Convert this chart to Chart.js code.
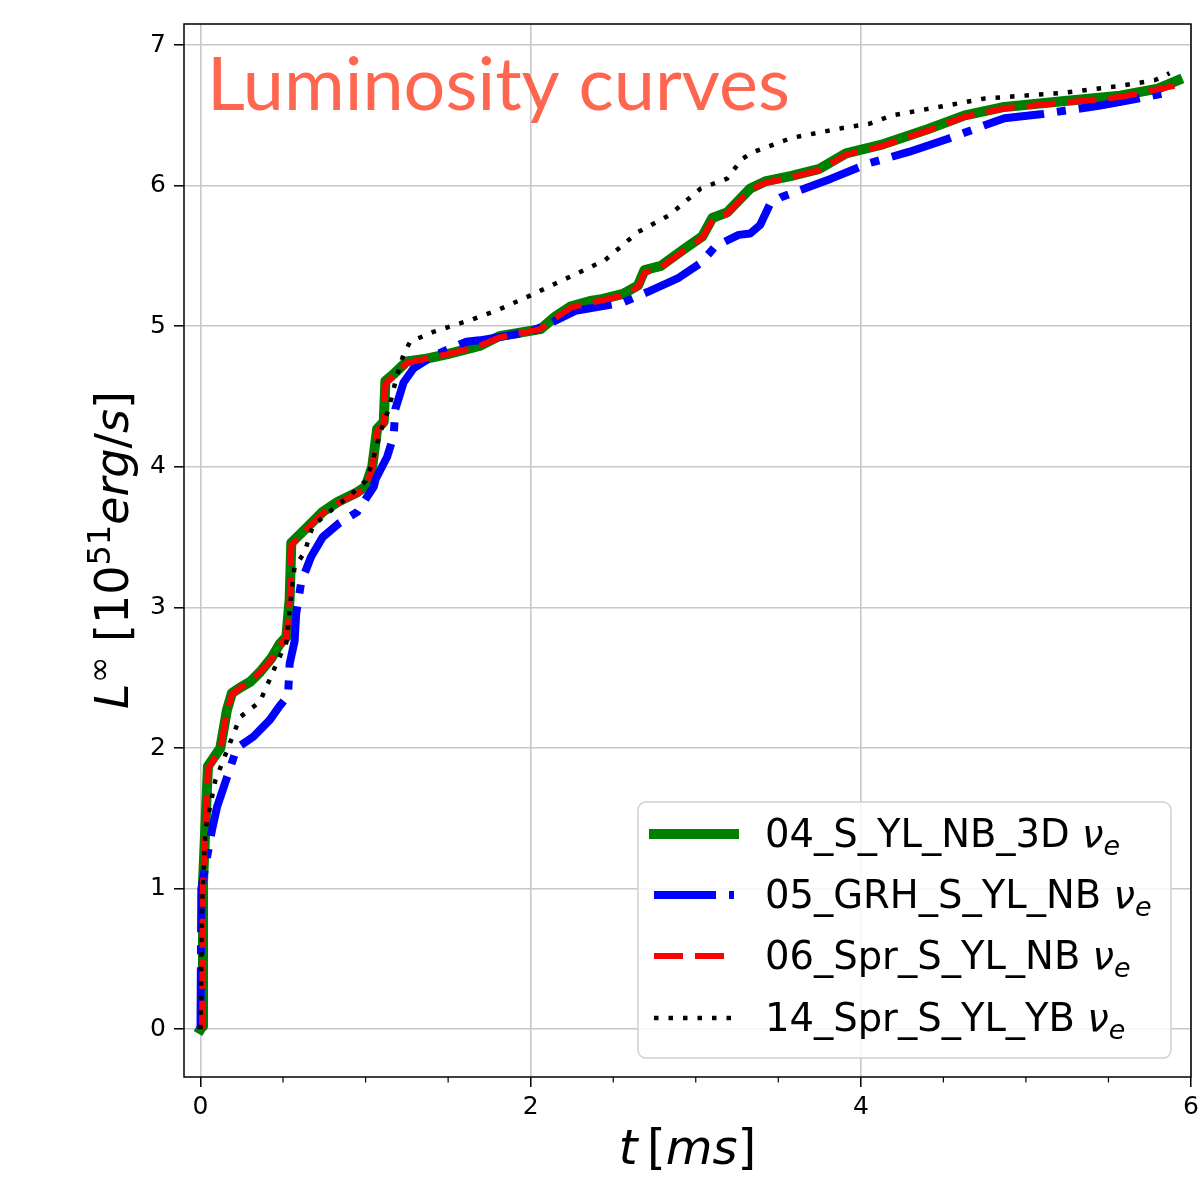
<!DOCTYPE html>
<html>
<head>
<meta charset="utf-8">
<script src="https://cdn.jsdelivr.net/npm/chart.js@4.4.1/dist/chart.umd.min.js"></script>
<style>
  html, body { margin: 0; padding: 0; background: #fff; }
  #wrap { width: 1204px; height: 1182px; }
</style>
</head>
<body>
<div id="wrap"><canvas id="chart" width="1204" height="1182"></canvas></div>
<script>
// Tick values
const xTicks = [0, 2, 4, 6];
const xMinorTicks = [0.5, 1, 1.5, 2.5, 3, 3.5, 4.5, 5, 5.5];
const yTicks = [0, 1, 2, 3, 4, 5, 6, 7];

// Series labels
const seriesLabels = ["04_S_YL_NB_3D", "05_GRH_S_YL_NB", "06_Spr_S_YL_NB", "14_Spr_S_YL_YB"];

// 04_S_YL_NB_3D (green, solid)
const greenT = [0, 0.01, 0.015, 0.045, 0.12, 0.16, 0.19, 0.24, 0.30, 0.36, 0.43, 0.48, 0.52, 0.54, 0.55, 0.62, 0.74, 0.83, 0.95, 1.0, 1.04, 1.07, 1.11, 1.12, 1.17, 1.25, 1.37, 1.49, 1.69, 1.81, 2.06, 2.15, 2.24, 2.36, 2.42, 2.56, 2.65, 2.69, 2.79, 2.93, 3.04, 3.1, 3.19, 3.33, 3.42, 3.58, 3.75, 3.91, 4.12, 4.4, 4.63, 4.87, 5.22, 5.57, 5.8, 5.92];
const greenL = [0, 0.02, 1.04, 1.87, 2.0, 2.27, 2.39, 2.43, 2.47, 2.54, 2.64, 2.74, 2.79, 3.06, 3.46, 3.54, 3.68, 3.75, 3.82, 3.86, 4.0, 4.27, 4.32, 4.61, 4.66, 4.75, 4.77, 4.80, 4.86, 4.93, 4.98, 5.07, 5.14, 5.18, 5.19, 5.23, 5.29, 5.40, 5.43, 5.55, 5.64, 5.77, 5.81, 5.98, 6.03, 6.07, 6.12, 6.23, 6.29, 6.40, 6.50, 6.56, 6.60, 6.64, 6.69, 6.75];

// 05_GRH_S_YL_NB (blue, dash-dot)
const blueT = [0, 0.005, 0.07, 0.10, 0.22, 0.32, 0.42, 0.48, 0.53, 0.54, 0.57, 0.58, 0.61, 0.67, 0.74, 0.84, 0.95, 1.05, 1.06, 1.13, 1.17, 1.18, 1.23, 1.29, 1.41, 1.61, 1.69, 2.0, 2.15, 2.27, 2.42, 2.56, 2.72, 2.89, 3.03, 3.12, 3.26, 3.33, 3.39, 3.45, 3.52, 3.66, 3.82, 4.05, 4.29, 4.52, 4.75, 4.87, 5.1, 5.45, 5.68, 5.89];
const blueL = [0, 1.0, 1.42, 1.58, 2.0, 2.08, 2.2, 2.3, 2.37, 2.6, 2.76, 2.96, 3.18, 3.36, 3.5, 3.6, 3.68, 3.86, 3.91, 4.07, 4.22, 4.41, 4.6, 4.7, 4.79, 4.89, 4.90, 4.96, 5.04, 5.11, 5.14, 5.17, 5.25, 5.34, 5.45, 5.57, 5.65, 5.66, 5.72, 5.87, 5.92, 5.98, 6.05, 6.16, 6.24, 6.33, 6.43, 6.48, 6.51, 6.57, 6.62, 6.67];

// 06_Spr_S_YL_NB (red, dashed) - sits on top of the green one
const redT = [0, 0.01, 0.015, 0.045, 0.12, 0.16, 0.19, 0.24, 0.30, 0.36, 0.43, 0.48, 0.52, 0.54, 0.55, 0.62, 0.74, 0.83, 0.95, 1.0, 1.04, 1.07, 1.11, 1.12, 1.17, 1.25, 1.37, 1.49, 1.69, 1.81, 2.06, 2.15, 2.24, 2.36, 2.42, 2.56, 2.65, 2.69, 2.79, 2.93, 3.04, 3.1, 3.19, 3.33, 3.42, 3.58, 3.75, 3.91, 4.12, 4.4, 4.63, 4.87, 5.22, 5.57, 5.9];
const redL = [0, 0.02, 1.02, 1.85, 1.99, 2.26, 2.38, 2.43, 2.47, 2.54, 2.63, 2.73, 2.78, 3.05, 3.44, 3.53, 3.67, 3.74, 3.81, 3.85, 3.99, 4.25, 4.31, 4.59, 4.65, 4.74, 4.77, 4.80, 4.86, 4.92, 4.98, 5.06, 5.13, 5.17, 5.18, 5.22, 5.28, 5.38, 5.42, 5.54, 5.63, 5.75, 5.80, 5.97, 6.02, 6.06, 6.11, 6.22, 6.28, 6.39, 6.49, 6.55, 6.59, 6.63, 6.71];

// 14_Spr_S_YL_YB (black, dotted)
const blackT = [0, 0.01, 0.03, 0.09, 0.18, 0.24, 0.36, 0.42, 0.46, 0.52, 0.55, 0.57, 0.63, 0.68, 0.78, 0.9, 1.0, 1.04, 1.09, 1.14, 1.19, 1.23, 1.27, 1.41, 1.65, 1.81, 2.0, 2.18, 2.36, 2.45, 2.65, 2.84, 3.03, 3.19, 3.28, 3.35, 3.58, 3.89, 4.05, 4.19, 4.52, 4.75, 5.22, 5.57, 5.78, 5.87];
const blackL = [0, 0.9, 1.42, 1.77, 2.04, 2.22, 2.33, 2.49, 2.6, 2.75, 3.1, 3.29, 3.39, 3.58, 3.68, 3.79, 3.9, 4.03, 4.25, 4.41, 4.65, 4.8, 4.89, 4.96, 5.05, 5.12, 5.22, 5.32, 5.42, 5.47, 5.67, 5.79, 5.98, 6.05, 6.19, 6.24, 6.34, 6.41, 6.44, 6.5, 6.57, 6.62, 6.66, 6.71, 6.75, 6.8];

function toPoints(xs, ys) {
    return xs.map((x, i) => ({ x: x, y: ys[i] }));
}

const FONT = "DejaVu Sans";

// fit a string into a given pixel width
function fitFont(ctx, text, width, style, family) {
    ctx.font = style + " 100px " + family;
    return 100 * width / ctx.measureText(text).width;
}

const decorPlugin = {
    id: "decor",
    afterDatasetsDraw(chart) {
        const ctx = chart.ctx;
        const area = chart.chartArea;
        const xs = chart.scales.x;
        ctx.save();

        // title inside the axes
        const size = fitFont(ctx, "Luminosity curves", 583, "", "Lato");
        ctx.font = size + "px Lato";
        ctx.fillStyle = "#ff6650";
        ctx.textBaseline = "alphabetic";
        ctx.fillText("Luminosity curves", 207, 110);

        // axes box
        ctx.strokeStyle = "#000";
        ctx.lineWidth = 1.5;
        ctx.strokeRect(area.left, area.top, area.right - area.left, area.bottom - area.top);

        // minor x ticks
        ctx.beginPath();
        xMinorTicks.forEach((v) => {
            const px = xs.getPixelForValue(v);
            ctx.moveTo(px, area.bottom);
            ctx.lineTo(px, area.bottom + 5.5);
        });
        ctx.lineWidth = 1.2;
        ctx.stroke();

        // legend
        const lx = 638, ly = 802, lw = 533, lh = 256;
        ctx.beginPath();
        ctx.roundRect(lx, ly, lw, lh, 8);
        ctx.fillStyle = "rgba(255,255,255,0.85)";
        ctx.fill();
        ctx.strokeStyle = "#d0d0d0";
        ctx.lineWidth = 1.5;
        ctx.stroke();

        const rows = [834, 895, 956, 1018];
        chart.data.datasets.forEach((ds, i) => {
            const y = rows[i];
            ctx.beginPath();
            ctx.moveTo(654, y);
            ctx.lineTo(734, y);
            ctx.strokeStyle = ds.borderColor;
            ctx.lineWidth = ds.borderWidth;
            ctx.lineCap = ds.borderCapStyle || "butt";
            ctx.setLineDash(ds.borderDash || []);
            ctx.stroke();
            ctx.setLineDash([]);

            ctx.fillStyle = "#000";
            ctx.font = "38.5px '" + FONT + "'";
            let x = 765;
            const base = y + 13;
            ctx.fillText(ds.label, x, base);
            x += ctx.measureText(ds.label + " ").width;
            ctx.font = "italic 38.5px '" + FONT + "'";
            ctx.fillText("\u03bd", x, base);
            x += ctx.measureText("\u03bd").width;
            ctx.font = "italic 27px '" + FONT + "'";
            ctx.fillText("e", x, base + 8);
        });

        // x axis title: t [ms]
        const parts = [
            ["italic", "t"], ["", "\u2009["], ["italic", "ms"], ["", "]"]
        ];
        let total = 0;
        parts.forEach((p) => { ctx.font = p[0] + " 48px '" + FONT + "'"; total += ctx.measureText(p[1]).width; });
        let tx = (area.left + area.right) / 2 - total / 2;
        parts.forEach((p) => {
            ctx.font = p[0] + " 48px '" + FONT + "'";
            ctx.fillText(p[1], tx, 1164);
            tx += ctx.measureText(p[1]).width;
        });

        // y axis title: L^inf [10^51 erg/s], rotated
        const yparts = [
            ["italic", 46, "L", 0], ["", 32, "\u221e", -18], ["", 46, " [10", 0], ["", 32, "51", -18],
            ["italic", 46, "erg", 0], ["", 46, "/", 0], ["italic", 46, "s", 0], ["", 46, "]", 0]
        ];
        let ytot = 0;
        yparts.forEach((p) => { ctx.font = p[0] + " " + p[1] + "px '" + FONT + "'"; ytot += ctx.measureText(p[2]).width; });
        ctx.translate(128, 550);
        ctx.rotate(-Math.PI / 2);
        let yx = -ytot / 2;
        yparts.forEach((p) => {
            ctx.font = p[0] + " " + p[1] + "px '" + FONT + "'";
            ctx.fillText(p[2], yx, p[3]);
            yx += ctx.measureText(p[2]).width;
        });
        ctx.restore();
    }
};

const ctx = document.getElementById("chart").getContext("2d");

new Chart(ctx, {
    type: "line",
    data: {
        datasets: [
            { label: seriesLabels[0], data: toPoints(greenT, greenL), borderColor: "#008000", borderWidth: 10, borderCapStyle: "square", order: 4 },
            { label: seriesLabels[1], data: toPoints(blueT, blueL), borderColor: "#0000ff", borderWidth: 8, borderDash: [62, 13, 9, 13], order: 3 },
            { label: seriesLabels[2], data: toPoints(redT, redL), borderColor: "#ff0000", borderWidth: 6, borderDash: [29, 12], order: 2 },
            { label: seriesLabels[3], data: toPoints(blackT, blackL), borderColor: "#000000", borderWidth: 4.5, borderDash: [4.5, 10], order: 1 },
        ],
    },
    options: {
        responsive: false,
        animation: false,
        layout: { padding: { left: 0, right: 13, top: 24, bottom: 0 } },
        elements: {
            point: { radius: 0 },
            line: { tension: 0, borderJoinStyle: "round", fill: false },
        },
        plugins: {
            legend: { display: false },
            tooltip: { enabled: false },
        },
        scales: {
            x: {
                type: "linear",
                min: -0.1,
                max: 6.0,
                afterBuildTicks: (s) => { s.ticks = xTicks.map((v) => ({ value: v })); },
                afterFit: (s) => { s.height = 105; },
                border: { display: false },
                grid: { color: "#c8c8c8", lineWidth: 1.6, tickColor: "#000", tickLength: 10, tickWidth: 1.5 },
                ticks: { color: "#000", font: { family: FONT, size: 25 }, padding: 5, maxRotation: 0, autoSkip: false, callback: (v) => String(v) },
            },
            y: {
                type: "linear",
                min: -0.34,
                max: 7.15,
                afterBuildTicks: (s) => { s.ticks = yTicks.map((v) => ({ value: v })); },
                afterFit: (s) => { s.width = 184; },
                border: { display: false },
                grid: { color: "#c8c8c8", lineWidth: 1.6, tickColor: "#000", tickLength: 10, tickWidth: 1.5 },
                ticks: { color: "#000", font: { family: FONT, size: 25 }, padding: 8, autoSkip: false, callback: (v) => String(v) },
            },
        },
    },
    plugins: [decorPlugin],
});
</script>
</body>
</html>
